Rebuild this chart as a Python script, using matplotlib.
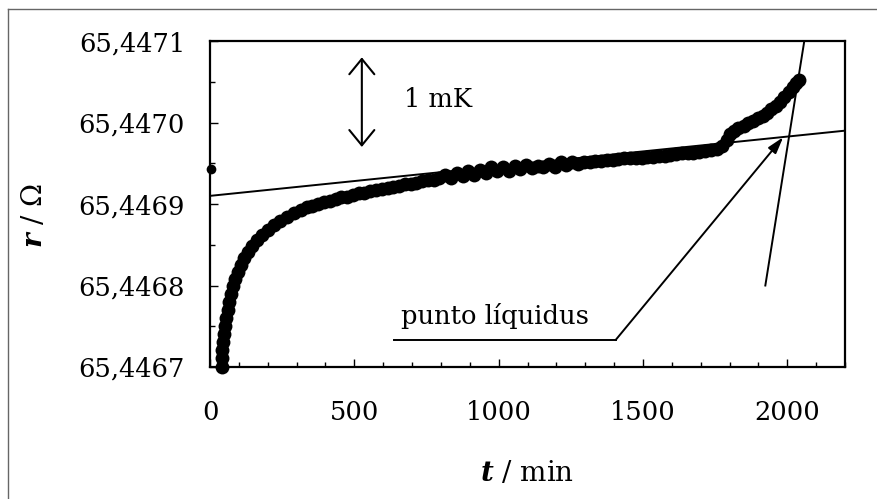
import numpy as np
import matplotlib
matplotlib.use("Agg")
import matplotlib.pyplot as plt
from matplotlib.lines import Line2D
from matplotlib.ticker import MultipleLocator

plt.rcParams["font.family"] = ["DejaVu Serif"]
plt.rcParams["mathtext.fontset"] = "dejavuserif"

# --- data ---
R_BASE = 65.4467  # ohm, bottom of the axis

# time (min) and resistance above R_BASE (micro-ohm)
t_min = [42, 42, 42, 45, 48, 52, 55, 62, 66, 73, 80, 87, 97, 107, 118, 131, 145, 163,
         180, 201, 221, 242, 266, 291, 315,
         335, 355, 375, 395, 415, 435, 455, 475, 495, 515, 535, 555, 575, 595, 615,
         635, 655, 675, 695, 715, 735, 755, 775, 795, 815, 835, 855, 875, 895, 915,
         935, 955, 975, 995, 1015, 1035, 1055, 1075, 1095, 1115, 1135, 1155, 1175,
         1195, 1215, 1235, 1255, 1275, 1295, 1315, 1335, 1355, 1375, 1395, 1415,
         1435, 1455, 1475, 1495, 1515, 1535, 1555, 1575, 1595, 1615, 1635, 1655,
         1675, 1695, 1715, 1735, 1755, 1775, 1790, 1800, 1815, 1830, 1850, 1865,
         1880, 1900, 1915, 1930, 1945, 1960, 1975, 1990, 2005, 2020, 2030, 2040]
dr_uohm = [0, 11, 21, 31, 40, 50, 60, 70, 80, 90, 99, 108, 117, 125, 134, 141, 148, 156,
           162, 168, 174, 179, 184, 189, 193,
           196, 198, 200, 202, 204, 206, 208, 209, 211, 213, 214, 216, 217, 219, 220,
           221, 222, 224, 225, 226, 228, 229, 230, 232, 235, 232, 238, 234, 240, 236,
           242, 238, 245, 240, 246, 241, 247, 243, 248, 244, 247, 245, 249,
           246, 251, 248, 252, 249, 251, 252, 253, 253, 254, 254, 255,
           256, 256, 257, 257, 258, 258, 259, 259, 260, 261, 262, 262,
           263, 264, 265, 266, 268, 271, 279, 286, 290, 293, 296, 299,
           302, 306, 308, 312, 316, 320, 325, 331, 337, 344, 348, 352]

# lone first reading near t = 0
t_first = [5]
dr_first = [243]

# tangent lines
flat_t = [0, 2200]
flat_r = [65.44691, 65.44699]
steep_t = [1924, 2059]
steep_r = [65.44680, 65.44710]

# "punto liquidus" leader line and arrow tip
leader_t = [637, 1405]
leader_r = [65.446733, 65.446733]
tip_t, tip_r = 1986, 65.446982

# 1 mK scale bar
mk_t = 526
mk_r = [65.44697, 65.44708]

y_ticks = [65.4467, 65.4468, 65.4469, 65.4470, 65.4471]
y_tick_labels = ["65,4467", "65,4468", "65,4469", "65,4470", "65,4471"]
x_ticks = [0, 500, 1000, 1500, 2000]

r_ohm = R_BASE + np.array(dr_uohm) * 1e-6
r_first = R_BASE + np.array(dr_first) * 1e-6

fig = plt.figure(figsize=(8.78, 4.99), dpi=100)
ax = fig.add_axes([0.2392, 0.2645, 0.7232, 0.6533])

ax.plot(t_min, r_ohm, "o", color="black", markersize=10, markeredgewidth=0, clip_on=False, zorder=3)
ax.plot(t_first, r_first, "o", color="black", markersize=7, markeredgewidth=0, clip_on=False, zorder=3)

ax.plot(flat_t, flat_r, color="black", lw=1.4, zorder=2)
ax.plot(steep_t, steep_r, color="black", lw=1.4, zorder=2)

# leader line + arrow to the intersection
ax.plot(leader_t, leader_r, color="black", lw=1.4)
ax.annotate("", xy=(tip_t, tip_r), xytext=(leader_t[1], leader_r[1]),
            arrowprops=dict(arrowstyle="-|>,head_length=0.5,head_width=0.15",
                            color="black", lw=1.4, shrinkA=0, shrinkB=0, mutation_scale=20))
ax.text(661, 65.446747, "punto líquidus", fontsize=18.5, ha="left", va="bottom")

# 1 mK double arrow
ax.annotate("", xy=(mk_t, mk_r[1]), xytext=(mk_t, mk_r[0]),
            arrowprops=dict(arrowstyle="<->,head_length=0.55,head_width=0.45",
                            color="black", lw=1.5, shrinkA=0, shrinkB=0, mutation_scale=20))
ax.text(672, 65.447028, "1 mK", fontsize=18.5, ha="left", va="center")

ax.set_xlim(0, 2200)
ax.set_ylim(65.4467, 65.4471)
ax.set_xticks(x_ticks)
ax.set_yticks(y_ticks)
ax.set_yticklabels(y_tick_labels)
ax.xaxis.set_minor_locator(MultipleLocator(100))
ax.yaxis.set_minor_locator(MultipleLocator(0.00005))
ax.tick_params(which="both", direction="in", top=False, right=False, width=1, labelsize=18.5)
ax.tick_params(which="major", length=6)
ax.tick_params(which="minor", length=3.5)
ax.tick_params(axis="x", pad=24)
ax.tick_params(axis="y", pad=18)
for sp in ax.spines.values():
    sp.set_linewidth(1.6)

ax.set_xlabel(r"$\mathbfit{t}$ / min", fontsize=20)
ax.set_ylabel(r"$\mathbfit{r}$ / Ω", fontsize=20)
ax.xaxis.set_label_coords(0.5, -0.285)
ax.yaxis.set_label_coords(-0.255, 0.466)

# page frame (left and top edges)
fig.add_artist(Line2D([0.0091, 0.0091], [0.0, 0.981], transform=fig.transFigure, color="#666666", lw=1))
fig.add_artist(Line2D([0.0091, 1.0], [0.981, 0.981], transform=fig.transFigure, color="#666666", lw=1))

fig.savefig("out.png", dpi=100)
